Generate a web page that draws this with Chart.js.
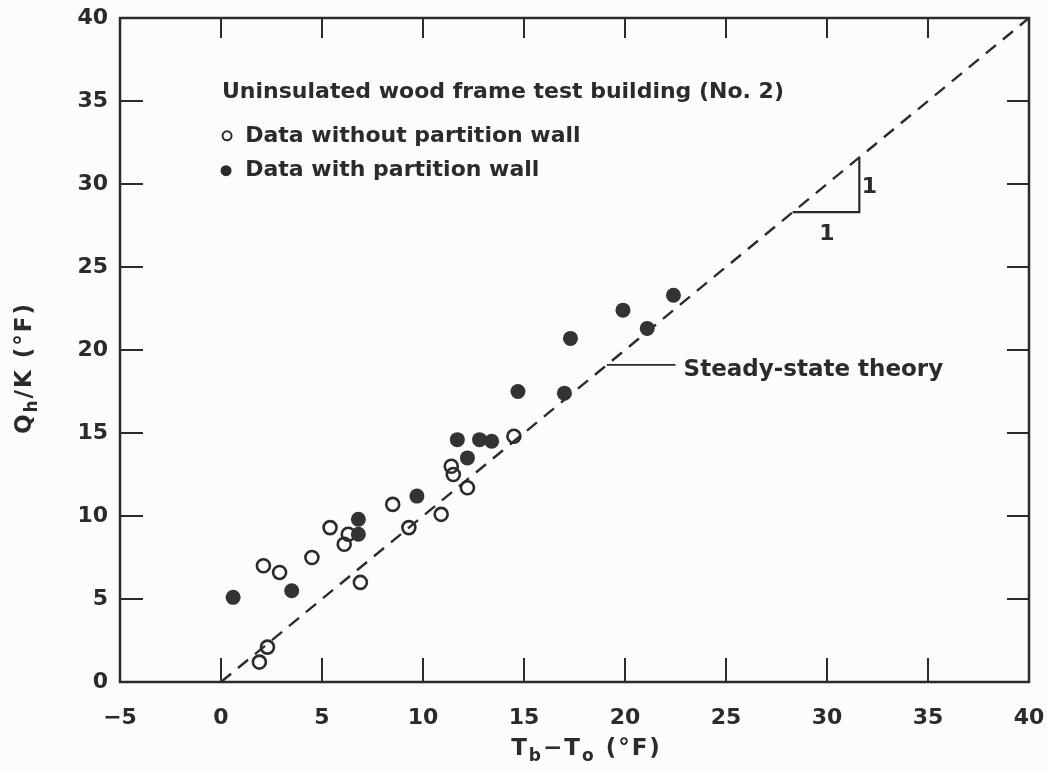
<!DOCTYPE html>
<html>
<head>
<meta charset="utf-8">
<script src="https://cdn.jsdelivr.net/npm/chart.js@4/dist/chart.umd.min.js"></script>
<style>
  html, body { margin: 0; padding: 0; background: #fcfcfa; }
  canvas { display: block; }
</style>
</head>
<body>
<canvas id="chart" width="1047" height="772"></canvas>
<script>
// data
const openX = [1.9, 2.3, 2.1, 2.9, 4.5, 5.4, 6.1, 6.3, 6.9, 8.5, 9.3, 10.9, 11.4, 11.5, 12.2, 14.5];
const openY = [1.2, 2.1, 7.0, 6.6, 7.5, 9.3, 8.3, 8.9, 6.0, 10.7, 9.3, 10.1, 13.0, 12.5, 11.7, 14.8];
const filledX = [0.6, 3.5, 6.8, 6.8, 9.7, 11.7, 12.2, 12.8, 13.4, 14.7, 17.0, 17.3, 19.9, 21.1, 22.4];
const filledY = [5.1, 5.5, 9.8, 8.9, 11.2, 14.6, 13.5, 14.6, 14.5, 17.5, 17.4, 20.7, 22.4, 21.3, 23.3];
const theoryX = [0, 40];
const theoryY = [0, 40];
const xTicks = [-5, 0, 5, 10, 15, 20, 25, 30, 35, 40];
const yTicks = [0, 5, 10, 15, 20, 25, 30, 35, 40];

const legendTitle = "Uninsulated wood frame test building (No. 2)";
const legendOpen = "Data without partition wall";
const legendFilled = "Data with partition wall";
const theoryLabel = "Steady-state theory";

const INK = "#2b2b2b";
const BG = "#fcfcfa";
const FONT = "DejaVu Sans";

function pts(xs, ys) {
  return xs.map((x, i) => ({ x, y: ys[i] }));
}

function drawRich(ctx, parts, x, y, size) {
  const main = `bold ${size}px "${FONT}"`;
  const sub = `bold ${Math.round(size * 0.72)}px "${FONT}"`;
  ctx.letterSpacing = "2px";
  let w = 0;
  parts.forEach((p) => {
    ctx.font = p.sub ? sub : main;
    w += ctx.measureText(p.t).width;
  });
  let cx = x - w / 2;
  ctx.textAlign = "left";
  ctx.textBaseline = "middle";
  parts.forEach((p) => {
    ctx.font = p.sub ? sub : main;
    ctx.fillText(p.t, cx, p.sub ? y + size * 0.32 : y);
    cx += ctx.measureText(p.t).width;
  });
  ctx.letterSpacing = "0px";
}

const decor = {
  id: "decor",
  beforeDraw(chart) {
    const ctx = chart.ctx;
    ctx.save();
    ctx.fillStyle = BG;
    ctx.fillRect(0, 0, chart.width, chart.height);
    ctx.restore();
  },
  afterDatasetsDraw(chart) {
    const { ctx, chartArea: a, scales } = chart;
    const xs = scales.x, ys = scales.y;
    const px = (v) => xs.getPixelForValue(v);
    const py = (v) => ys.getPixelForValue(v);
    ctx.save();
    ctx.strokeStyle = INK;
    ctx.fillStyle = INK;

    // frame
    ctx.lineWidth = 2.5;
    ctx.strokeRect(a.left, a.top, a.right - a.left, a.bottom - a.top);

    // inner ticks on all four sides
    ctx.lineWidth = 2;
    ctx.beginPath();
    xTicks.slice(1, -1).forEach((t) => {
      ctx.moveTo(px(t), a.bottom);
      ctx.lineTo(px(t), a.bottom - 24);
      ctx.moveTo(px(t), a.top);
      ctx.lineTo(px(t), a.top + 20);
    });
    yTicks.slice(1, -1).forEach((t) => {
      ctx.moveTo(a.left, py(t));
      ctx.lineTo(a.left + 23, py(t));
      ctx.moveTo(a.right, py(t));
      ctx.lineTo(a.right - 22, py(t));
    });
    ctx.stroke();

    // legend block
    ctx.textAlign = "left";
    ctx.textBaseline = "middle";
    ctx.font = `bold 22px "${FONT}"`;
    ctx.fillText(legendTitle, px(0.05), py(35.5));
    ctx.fillText(legendOpen, px(1.2), py(32.9));
    ctx.fillText(legendFilled, px(1.2), py(30.8));
    ctx.lineWidth = 2;
    ctx.beginPath();
    ctx.arc(px(0.3), py(32.9), 4.5, 0, Math.PI * 2);
    ctx.stroke();
    ctx.beginPath();
    ctx.arc(px(0.25), py(30.8), 5.5, 0, Math.PI * 2);
    ctx.fill();

    // slope triangle
    ctx.lineWidth = 2.2;
    ctx.beginPath();
    ctx.moveTo(px(28.3), py(28.3));
    ctx.lineTo(px(31.6), py(28.3));
    ctx.lineTo(px(31.6), py(31.6));
    ctx.stroke();
    ctx.textAlign = "center";
    ctx.fillText("1", px(32.1), py(29.8));
    ctx.fillText("1", px(30.0), py(27.0));

    // theory leader + label
    ctx.lineWidth = 1.8;
    ctx.beginPath();
    ctx.moveTo(px(19.1), py(19.1));
    ctx.lineTo(px(22.5), py(19.1));
    ctx.stroke();
    ctx.textAlign = "left";
    ctx.font = `bold 23px "${FONT}"`;
    ctx.fillText(theoryLabel, px(22.9), py(18.8));

    // axis titles
    drawRich(ctx, [{ t: "T" }, { t: "b", sub: true }, { t: "−T" }, { t: "o", sub: true }, { t: " (°F)" }],
      (a.left + a.right) / 2 + 12, a.bottom + 67, 23);
    ctx.translate(25, (a.top + a.bottom) / 2 + 18);
    ctx.rotate(-Math.PI / 2);
    drawRich(ctx, [{ t: "Q" }, { t: "h", sub: true }, { t: "/K (°F)" }], 0, 0, 23);
    ctx.restore();
  },
};

new Chart(document.getElementById("chart"), {
  type: "scatter",
  data: {
    datasets: [
      {
        label: legendOpen,
        data: pts(openX, openY),
        pointRadius: 6.5,
        pointHoverRadius: 6.5,
        pointBorderWidth: 2.6,
        pointBorderColor: INK,
        pointBackgroundColor: "rgba(0,0,0,0)",
        order: 2,
      },
      {
        label: legendFilled,
        data: pts(filledX, filledY),
        pointRadius: 7.5,
        pointHoverRadius: 7.5,
        pointBorderWidth: 0,
        pointBackgroundColor: "#333333",
        order: 1,
      },
      {
        type: "line",
        label: theoryLabel,
        data: pts(theoryX, theoryY),
        borderColor: INK,
        borderWidth: 2.4,
        borderDash: [13, 9],
        pointRadius: 0,
        fill: false,
        order: 3,
      },
    ],
  },
  options: {
    responsive: false,
    animation: false,
    layout: { padding: 0 },
    plugins: { legend: { display: false }, tooltip: { enabled: false } },
    scales: {
      x: {
        type: "linear",
        min: -5,
        max: 40,
        afterBuildTicks: (s) => { s.ticks = xTicks.map((v) => ({ value: v })); },
        grid: { display: false },
        border: { display: false },
        ticks: {
          color: INK,
          padding: 15,
          font: { family: FONT, size: 22, weight: "bold" },
          callback: (v) => String(v).replace("-", "−"),
        },
        afterFit: (s) => { s.height = 90; s.paddingLeft = 0; s.paddingRight = 18; },
      },
      y: {
        type: "linear",
        min: 0,
        max: 40,
        afterBuildTicks: (s) => { s.ticks = yTicks.map((v) => ({ value: v })); },
        grid: { display: false },
        border: { display: false },
        ticks: { color: INK, padding: 4, font: { family: FONT, size: 22, weight: "bold" } },
        afterFit: (s) => { s.width = 120; s.paddingTop = 18; s.paddingBottom = 0; },
      },
    },
  },
  plugins: [decor],
});
</script>
</body>
</html>
